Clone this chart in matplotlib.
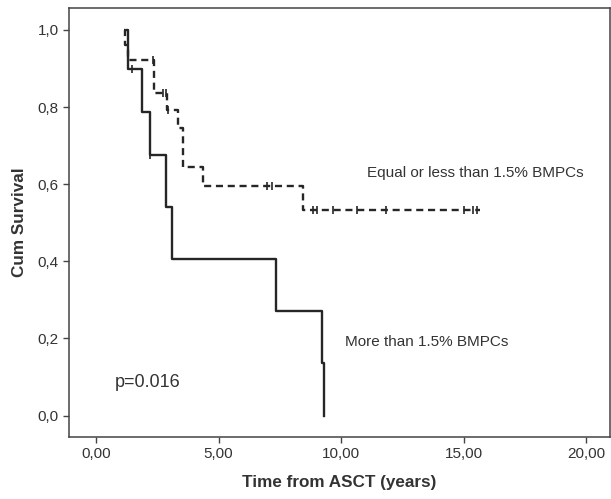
import matplotlib.pyplot as plt

# Kaplan-Meier steps
more_t = [1.25, 1.29, 1.86, 2.20, 2.85, 3.11, 7.34, 9.22, 9.29]
more_s = [1.0, 0.898, 0.788, 0.676, 0.540, 0.405, 0.270, 0.135, 0.0]
more_cens_t = [1.46, 2.22]
more_cens_s = [0.898, 0.676]

equal_t = [1.15, 1.20, 1.30, 2.38, 2.88, 3.36, 3.56, 4.35, 8.46, 15.66]
equal_s = [1.0, 0.96, 0.922, 0.836, 0.792, 0.745, 0.645, 0.594, 0.533, 0.533]
equal_cens_t = [2.31, 2.75, 2.85, 2.95, 6.96, 7.17,
                8.85, 9.00, 9.65, 10.63, 11.83, 15.02, 15.39, 15.53]
equal_cens_s = [0.922, 0.836, 0.836, 0.792, 0.594, 0.594,
                0.533, 0.533, 0.533, 0.533, 0.533, 0.533, 0.533, 0.533]

x_ticks = [0, 5, 10, 15, 20]
x_labels = ['0,00', '5,00', '10,00', '15,00', '20,00']
y_ticks = [0.0, 0.2, 0.4, 0.6, 0.8, 1.0]
y_labels = ['0,0', '0,2', '0,4', '0,6', '0,8', '1,0']

plt.rcParams['font.family'] = ['Liberation Sans', 'DejaVu Sans']

line_col = '#262626'
text_col = '#333333'

fig = plt.figure(figsize=(6.11, 4.99), dpi=100)
ax = fig.add_axes([0.1134, 0.1248, 0.885, 0.8586])

ax.step(more_t, more_s, where='post', color=line_col, lw=1.7)
ax.plot(more_cens_t, more_cens_s, ls='none', marker='|', ms=6,
        mew=1.2, color=line_col)

ax.step(equal_t, equal_s, where='post', color=line_col, lw=1.7,
        ls=(0, (3, 2)))
ax.plot(equal_cens_t, equal_cens_s, ls='none', marker='|', ms=6,
        mew=1.2, color=line_col)

ax.text(11.05, 0.63, 'Equal or less than 1.5% BMPCs', fontsize=11,
        color=text_col, va='center')
ax.text(10.15, 0.19, 'More than 1.5% BMPCs', fontsize=11,
        color=text_col, va='center')
ax.text(0.78, 0.085, 'p=0.016', fontsize=13, color=text_col,
        va='center')

ax.set_xlim(-1.09, 20.96)
ax.set_ylim(-0.055, 1.056)
ax.set_xticks(x_ticks)
ax.set_xticklabels(x_labels)
ax.set_yticks(y_ticks)
ax.set_yticklabels(y_labels)
ax.tick_params(length=4.5, width=1, color='#444444', labelsize=11,
               labelcolor=text_col, pad=3)

for sp in ax.spines.values():
    sp.set_color('#444444')
    sp.set_linewidth(1.1)

ax.set_xlabel('Time from ASCT (years)', fontsize=12.3, fontweight='bold',
              color=text_col, labelpad=10)
ax.set_ylabel('Cum Survival', fontsize=12.3, fontweight='bold',
              color=text_col, labelpad=8)

fig.savefig('out.png', dpi=100)
